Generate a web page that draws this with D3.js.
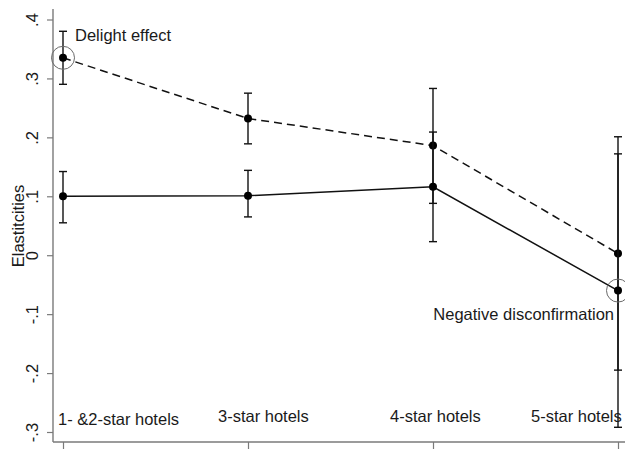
<!DOCTYPE html>
<html>
<head>
<meta charset="utf-8">
<script src="https://cdn.jsdelivr.net/npm/d3@7"></script>
<style>
  html, body { margin: 0; padding: 0; background: #fff; }
  svg { display: block; font-family: "Liberation Sans", Arial, Helvetica, sans-serif; }
</style>
</head>
<body>
<svg id="chart" width="625" height="449"></svg>
<script>
// Hotel categories along the x axis
const categories = ["1- &2-star hotels", "3-star hotels", "4-star hotels", "5-star hotels"];

// Dashed series: point estimates with confidence bounds
const dashedEst = [0.335, 0.232, 0.186, 0.003];
const dashedLo  = [0.290, 0.189, 0.088, -0.195];
const dashedHi  = [0.380, 0.275, 0.283, 0.201];

// Solid series: point estimates with confidence bounds
const solidEst = [0.100, 0.101, 0.116, -0.060];
const solidLo  = [0.055, 0.065, 0.023, -0.292];
const solidHi  = [0.142, 0.144, 0.209, 0.172];

// Y axis ticks and their printed labels
const yTicks = [-0.3, -0.2, -0.1, 0, 0.1, 0.2, 0.3, 0.4];
const yTickLabels = ["-.3", "-.2", "-.1", "0", ".1", ".2", ".3", ".4"];

const yTitle = "Elastitcities";
const delightText = "Delight effect";
const negativeText = "Negative disconfirmation";

const svg = d3.select("#chart");
const W = 625, H = 449;
const axisX = 53, axisY = 442;

const x = d3.scalePoint().domain(categories).range([63, 618]);
const y = d3.scaleLinear().domain([-0.3, 0.4]).range([432, 19.5]);

const axisColor = "#7a7a7a";
const inkColor = "#111";
const textColor = "#1a1a1a";

// Y axis
const yAxis = d3.axisLeft(y)
  .tickValues(yTicks)
  .tickSize(6)
  .tickPadding(8)
  .tickFormat((d, i) => yTickLabels[i]);

const gy = svg.append("g").attr("transform", `translate(${axisX},0)`).call(yAxis);
gy.select(".domain").remove();
gy.selectAll(".tick line").attr("stroke", axisColor).attr("stroke-width", 1.2);
gy.selectAll(".tick text")
  .attr("fill", textColor)
  .attr("font-size", 16.5)
  .attr("text-anchor", "middle")
  .attr("dy", null)
  .attr("x", null)
  .attr("transform", "translate(-15,0) rotate(-90)")
  .attr("y", 0)
  .attr("dominant-baseline", "auto");
gy.selectAll(".tick text").attr("transform", "translate(-15,0) rotate(-90)").attr("dy", 0).attr("y", 0);
gy.selectAll(".tick text").attr("x", 0);

svg.append("line")
  .attr("x1", axisX).attr("x2", axisX)
  .attr("y1", 9).attr("y2", axisY)
  .attr("stroke", axisColor).attr("stroke-width", 1.4);

// X axis
const xAxis = d3.axisBottom(x).tickSize(7).tickFormat("");
const gx = svg.append("g").attr("transform", `translate(0,${axisY})`).call(xAxis);
gx.select(".domain").remove();
gx.selectAll(".tick line").attr("stroke", axisColor).attr("stroke-width", 1.2);

svg.append("line")
  .attr("x1", axisX).attr("x2", W)
  .attr("y1", axisY).attr("y2", axisY)
  .attr("stroke", axisColor).attr("stroke-width", 1.4);

// Y axis title
svg.append("text")
  .attr("transform", `translate(24,226) rotate(-90)`)
  .attr("text-anchor", "middle")
  .attr("font-size", 16.5)
  .attr("fill", textColor)
  .text(yTitle);

// Build series records
function build(est, lo, hi) {
  return categories.map((c, i) => ({ cat: c, est: est[i], lo: lo[i], hi: hi[i] }));
}
const series = [
  { name: "dashed", data: build(dashedEst, dashedLo, dashedHi), dash: "8,5" },
  { name: "solid", data: build(solidEst, solidLo, solidHi), dash: null }
];

const line = d3.line().x(d => x(d.cat)).y(d => y(d.est));
const capHalf = 4;

series.forEach(s => {
  const g = svg.append("g").attr("class", s.name);

  // Confidence intervals
  const bars = g.selectAll("g.ci").data(s.data).join("g").attr("class", "ci")
    .attr("stroke", inkColor).attr("stroke-width", 1.4);
  bars.append("line")
    .attr("x1", d => x(d.cat)).attr("x2", d => x(d.cat))
    .attr("y1", d => y(d.lo)).attr("y2", d => y(d.hi));
  bars.append("line")
    .attr("x1", d => x(d.cat) - capHalf).attr("x2", d => x(d.cat) + capHalf)
    .attr("y1", d => y(d.hi)).attr("y2", d => y(d.hi));
  bars.append("line")
    .attr("x1", d => x(d.cat) - capHalf).attr("x2", d => x(d.cat) + capHalf)
    .attr("y1", d => y(d.lo)).attr("y2", d => y(d.lo));

  // Connecting line
  g.append("path")
    .datum(s.data)
    .attr("d", line)
    .attr("fill", "none")
    .attr("stroke", inkColor)
    .attr("stroke-width", 1.5)
    .attr("stroke-dasharray", s.dash);

  // Point estimates
  g.selectAll("circle.pt").data(s.data).join("circle").attr("class", "pt")
    .attr("cx", d => x(d.cat)).attr("cy", d => y(d.est))
    .attr("r", 4).attr("fill", "#000");
});

// Highlight rings around the annotated estimates
const rings = [
  { cat: categories[0], value: dashedEst[0] },
  { cat: categories[3], value: solidEst[3] }
];
svg.selectAll("circle.ring").data(rings).join("circle").attr("class", "ring")
  .attr("cx", d => x(d.cat)).attr("cy", d => y(d.value))
  .attr("r", 11.5).attr("fill", "none")
  .attr("stroke", "#6a6a6a").attr("stroke-width", 1);

// Annotation texts
svg.append("text")
  .attr("x", x(categories[0]) + 12).attr("y", y(dashedHi[0]) + 10)
  .attr("font-size", 16.5).attr("fill", textColor)
  .text(delightText);

svg.append("text")
  .attr("x", x(categories[3]) - 4).attr("y", y(solidEst[3]) + 29)
  .attr("text-anchor", "end")
  .attr("font-size", 16.5).attr("fill", textColor)
  .text(negativeText);

// Category labels inside the plot area
const catLabelShift = [-5, -30, -43, -87];
const catLabelBase = [425, 422, 422, 422];
svg.selectAll("text.cat").data(categories).join("text").attr("class", "cat")
  .attr("x", (d, i) => x(d) + catLabelShift[i])
  .attr("y", (d, i) => catLabelBase[i])
  .attr("font-size", 16.5).attr("fill", textColor)
  .text(d => d);
</script>
</body>
</html>
